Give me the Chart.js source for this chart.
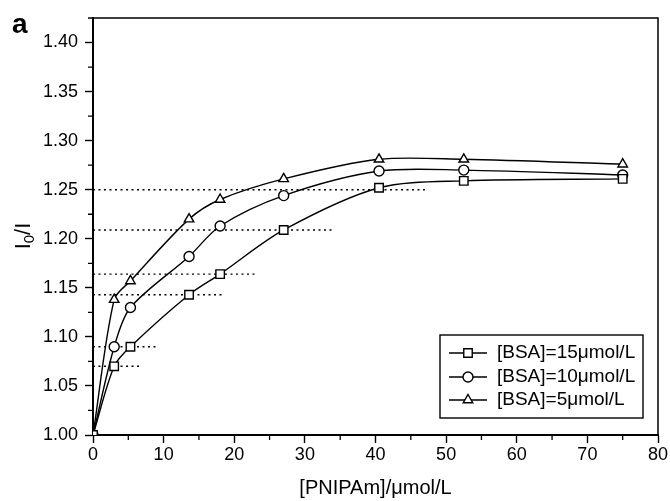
<!DOCTYPE html>
<html>
<head>
<meta charset="utf-8">
<script src="https://cdn.jsdelivr.net/npm/chart.js@4/dist/chart.umd.min.js"></script>
<style>
  html, body { margin: 0; padding: 0; background: #fff; }
  canvas { display: block; }
</style>
</head>
<body>
<canvas id="chart" width="670" height="501"></canvas>
<script>
// PNIPAm concentration (umol/L) and I0/I for each BSA concentration
const concX = [0, 3, 5.3, 13.6, 18, 27, 40.5, 52.5, 75];
const bsa15 = [1.000, 1.070, 1.090, 1.143, 1.164, 1.209, 1.252, 1.259, 1.261];
const bsa10 = [1.000, 1.090, 1.130, 1.182, 1.213, 1.244, 1.269, 1.270, 1.265];
const bsa5 = [1.000, 1.138, 1.157, 1.220, 1.240, 1.261, 1.281, 1.281, 1.276];

const seriesLabels = ['[BSA]=15\u03bcmol/L', '[BSA]=10\u03bcmol/L', '[BSA]=5\u03bcmol/L'];
const seriesStyles = ['rect', 'circle', 'triangle'];

// dotted guide lines: level and where they stop on the x axis
const refLevels = [1.070, 1.090, 1.143, 1.164, 1.209, 1.250];
const refEnds = [7.0, 8.9, 18.2, 22.9, 33.9, 47.1];

const xMajor = [0, 10, 20, 30, 40, 50, 60, 70, 80];
const yMajor = [1.00, 1.05, 1.10, 1.15, 1.20, 1.25, 1.30, 1.35, 1.40];

const FONT = '"Liberation Sans", Arial, Helvetica, sans-serif';

function pts(ys) {
    return concX.map((x, i) => ({ x: x, y: ys[i] }));
}

const markerRadius = { rect: 6, circle: 5, triangle: 5.5 };

const datasets = [bsa15, bsa10, bsa5].map((ys, i) => ({
    label: seriesLabels[i],
    data: pts(ys),
    borderColor: '#000',
    borderWidth: 1.4,
    backgroundColor: '#fff',
    pointStyle: seriesStyles[i],
    pointRadius: markerRadius[seriesStyles[i]],
    pointBorderWidth: 1.4,
    pointBackgroundColor: '#fff',
    pointBorderColor: '#000',
    tension: 0.3,
    fill: false,
    order: 1
}));

refLevels.forEach((lv, i) => {
    datasets.push({
        label: 'ref' + i,
        data: [{ x: 0, y: lv }, { x: refEnds[i], y: lv }],
        borderColor: '#000',
        borderWidth: 1.4,
        borderDash: [2, 3.5],
        pointRadius: 0,
        fill: false,
        order: 2
    });
});

// frame, minor ticks, axis titles, panel letter and legend
const extrasPlugin = {
    id: 'extras',
    afterDraw(chart) {
        const ctx = chart.ctx;
        const area = chart.chartArea;
        const xs = chart.scales.x;
        const ys = chart.scales.y;
        ctx.save();
        ctx.strokeStyle = '#000';
        ctx.lineWidth = 1.5;

        // top and right frame
        ctx.beginPath();
        ctx.moveTo(area.left, area.top);
        ctx.lineTo(area.right, area.top);
        ctx.lineTo(area.right, area.bottom);
        ctx.stroke();

        // minor ticks
        ctx.lineWidth = 1.3;
        ctx.beginPath();
        for (let v = 5; v < 80; v += 10) {
            const px = xs.getPixelForValue(v);
            ctx.moveTo(px, area.bottom);
            ctx.lineTo(px, area.bottom + 5);
        }
        for (let k = 0; k < 9; k++) {
            const py = ys.getPixelForValue(1.025 + k * 0.05);
            ctx.moveTo(area.left, py);
            ctx.lineTo(area.left - 5, py);
        }
        ctx.stroke();

        ctx.fillStyle = '#000';

        // x title
        ctx.font = '20px ' + FONT;
        ctx.textAlign = 'center';
        ctx.textBaseline = 'middle';
        ctx.fillText('[PNIPAm]/\u03bcmol/L', (area.left + area.right) / 2, 488);

        // y title I0/I with subscript
        ctx.save();
        ctx.translate(24, 236);
        ctx.rotate(-Math.PI / 2);
        ctx.textAlign = 'left';
        ctx.textBaseline = 'middle';
        const big = '22px ' + FONT;
        const small = '15px ' + FONT;
        ctx.font = big;
        const wI = ctx.measureText('I').width;
        const wSI = ctx.measureText('/I').width;
        ctx.font = small;
        const w0 = ctx.measureText('0').width;
        const total = wI + w0 + wSI;
        let cx = -total / 2;
        ctx.font = big;
        ctx.fillText('I', cx, 0);
        cx += wI;
        ctx.font = small;
        ctx.fillText('0', cx, 6);
        cx += w0;
        ctx.font = big;
        ctx.fillText('/I', cx, 0);
        ctx.restore();

        // panel letter
        ctx.font = 'bold 28px ' + FONT;
        ctx.textAlign = 'left';
        ctx.textBaseline = 'middle';
        ctx.fillText('a', 12, 25);

        // legend
        const box = { x: 440, y: 335, w: 203, h: 83 };
        ctx.lineWidth = 1.4;
        ctx.strokeRect(box.x, box.y, box.w, box.h);
        const rowY = [353, 377, 400];
        ctx.font = '19px ' + FONT;
        ctx.textAlign = 'left';
        ctx.textBaseline = 'middle';
        for (let i = 0; i < 3; i++) {
            const y = rowY[i];
            ctx.beginPath();
            ctx.moveTo(449, y);
            ctx.lineTo(487, y);
            ctx.stroke();
            ctx.fillStyle = '#fff';
            Chart.helpers.drawPoint(ctx, {
                pointStyle: seriesStyles[i],
                radius: markerRadius[seriesStyles[i]],
                rotation: 0,
                borderWidth: 1.4
            }, 468, y);
            ctx.fillStyle = '#000';
            ctx.fillText(seriesLabels[i], 497, y);
        }
        ctx.restore();
    }
};

const tickFont = { family: FONT, size: 18 };

new Chart(document.getElementById('chart').getContext('2d'), {
    type: 'line',
    data: { datasets: datasets },
    options: {
        responsive: false,
        animation: false,
        devicePixelRatio: 1,
        layout: { padding: { top: 18, right: 12, left: 0, bottom: 0 } },
        plugins: {
            legend: { display: false },
            tooltip: { enabled: false }
        },
        scales: {
            x: {
                type: 'linear',
                min: 0,
                max: 80,
                afterBuildTicks: s => { s.ticks = xMajor.map(v => ({ value: v })); },
                ticks: { font: tickFont, color: '#000', padding: 1, maxRotation: 0, callback: v => String(v) },
                grid: { drawOnChartArea: false, tickLength: 8, tickColor: '#000', tickWidth: 1.4 },
                border: { color: '#000', width: 2 },
                afterFit: s => { s.height = 66; }
            },
            y: {
                type: 'linear',
                min: 1.0,
                max: 1.425,
                afterBuildTicks: s => { s.ticks = yMajor.map(v => ({ value: v })); },
                ticks: { font: tickFont, color: '#000', padding: 7, callback: v => v.toFixed(2) },
                grid: { drawOnChartArea: false, tickLength: 8, tickColor: '#000', tickWidth: 1.4 },
                border: { color: '#000', width: 2 },
                afterFit: s => { s.width = 93; }
            }
        }
    },
    plugins: [extrasPlugin]
});
</script>
</body>
</html>
